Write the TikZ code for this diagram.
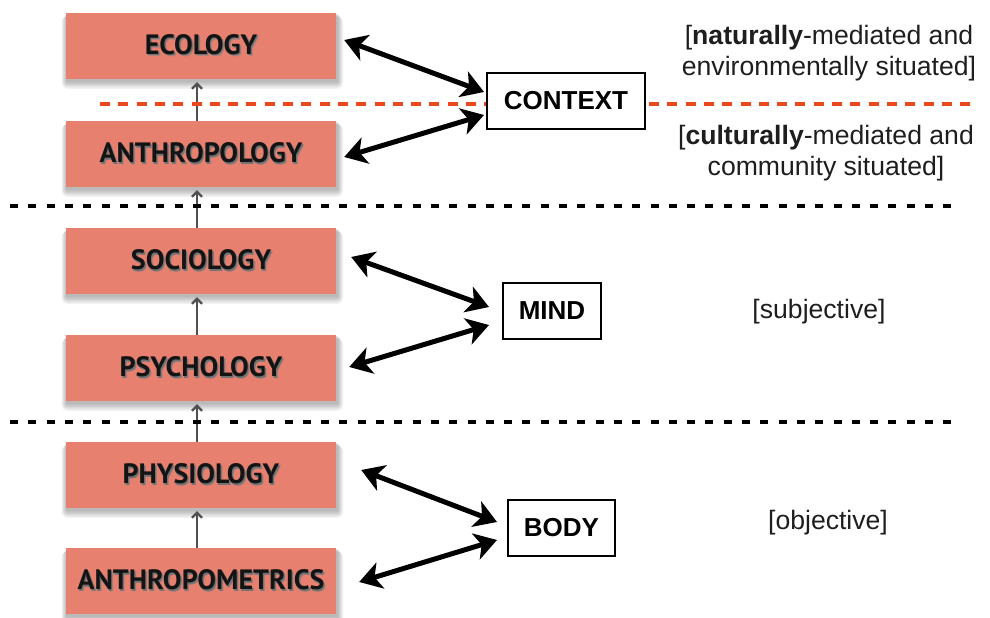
\documentclass[tikz,border=0pt]{standalone}
\usepackage{fontspec}
\setmainfont{Liberation Sans}
\newfontfamily\discfont{PT Sans}
\usetikzlibrary{arrows.meta}

\definecolor{salmon}{RGB}{232,128,112}
\definecolor{ctxorange}{RGB}{232,74,28}
\definecolor{linkgray}{RGB}{80,80,80}
\definecolor{notetext}{RGB}{30,30,30}

% label with a soft dark shadow behind it
\newcommand\embossed[1]{\leavevmode
  \rlap{\kern2pt\raisebox{-2.2pt}{\color{salmon!60!black!70}#1}}%
  \rlap{\kern1.2pt\raisebox{-1.3pt}{\color{black!55}#1}}%
  #1}

\begin{document}
\begin{tikzpicture}[x=1pt,y=-1pt,
  discipline/.style={fill=salmon, minimum width=270pt, minimum height=66pt,
    inner sep=0pt, text=black!92,
    font=\discfont\bfseries\fontsize{28}{30}\selectfont},
  realm/.style={draw=black, line width=2pt, fill=white, minimum height=56pt,
    inner sep=0pt, font=\bfseries\fontsize{26}{30}\selectfont},
  note/.style={align=center, text=notetext, font=\fontsize{26.6}{31}\selectfont},
  bigarrow/.style={line width=5pt,
    {Stealth[length=22pt,width=27pt,inset=6pt]}-{Stealth[length=22pt,width=27pt,inset=6pt]}},
  uplink/.style={linkgray, line width=2.2pt, -{Straight Barb[length=5pt,width=10pt]},
    shorten >=3pt},
  sepline/.style={line width=4pt, dash pattern=on 8pt off 10.3pt}
]
\useasboundingbox (0,0) rectangle (990,618);

% discipline boxes with soft shadows
\foreach \nm/\yy/\txt in {eco/46/ECOLOGY, anthro/154/ANTHROPOLOGY,
    soc/261/SOCIOLOGY, psy/368/PSYCHOLOGY, phys/475/PHYSIOLOGY,
    metrics/581/ANTHROPOMETRICS} {
  \foreach \k in {1,...,6}
    \fill[black, opacity=0.05, rounded corners=\k pt]
      (67-\k*0.9, \yy-33+\k*0.6) rectangle (337+\k*1.0, \yy+35+\k*1.3);
  \node[discipline] (\nm) at (201,\yy) {\embossed{\txt}};
}

% upward links between neighbouring disciplines
\draw[uplink] ([xshift=-4pt]anthro.north) -- ([xshift=-4pt]eco.south);
\draw[uplink] ([xshift=-4pt]soc.north) -- ([xshift=-4pt]anthro.south);
\draw[uplink] ([xshift=-4pt]psy.north) -- ([xshift=-4pt]soc.south);
\draw[uplink] ([xshift=-4pt]phys.north) -- ([xshift=-4pt]psy.south);
\draw[uplink] ([xshift=-4pt]metrics.north) -- ([xshift=-4pt]phys.south);

% separators
\draw[sepline, ctxorange, dash pattern=on 10pt off 8.3pt] (100,104) -- (977,104);
\draw[sepline, black] (10,205.5) -- (958,205.5);
\draw[sepline, black] (10,421.5) -- (958,421.5);

% realms
\node[realm, minimum width=158pt] (ctx) at (566,101) {CONTEXT};
\node[realm, minimum width=98pt] (mind) at (552,311) {MIND};
\node[realm, minimum width=107pt] (body) at (561.5,528) {BODY};

% two-way links
\draw[bigarrow] ([shift={(8,-6)}]eco.east) -- ([shift={(-2,-9)}]ctx.west);
\draw[bigarrow] ([shift={(8,3)}]anthro.east) -- ([shift={(-2,14)}]ctx.west);
\draw[bigarrow] ([shift={(15,-4)}]soc.east) -- ([shift={(-13,-4)}]mind.west);
\draw[bigarrow] ([shift={(13,-1)}]psy.east) -- ([shift={(-13,14)}]mind.west);
\draw[bigarrow] ([shift={(25,-5)}]phys.east) -- ([shift={(-10,-6)}]body.west);
\draw[bigarrow] ([shift={(23,1)}]metrics.east) -- ([shift={(-10,12)}]body.west);

% notes
\node[note] (natural) at (829,53) {[\textbf{naturally}-mediated and\\environmentally situated]};
\node[note] (cultural) at (826,153) {[\textbf{culturally}-mediated and\\community situated]};
\node[note] (subj) at (819,312) {[subjective]};
\node[note] (obj) at (828,523) {[objective]};
\end{tikzpicture}
\end{document}
